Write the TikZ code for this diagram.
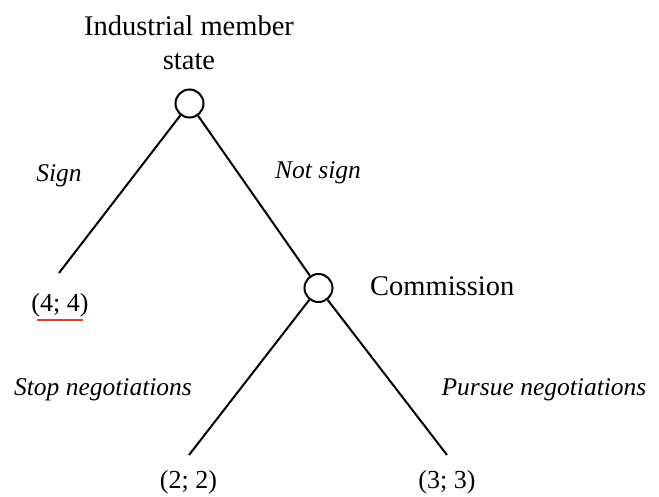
\documentclass[tikz,border=0pt]{standalone}
\usepackage{fontspec}
\setmainfont{Liberation Serif}
\begin{document}
\begin{tikzpicture}[x=1pt,y=-1pt,
  decision/.style={circle,draw,line width=2pt,minimum size=28pt,inner sep=0pt},
  branch/.style={line width=2pt},
  player/.style={anchor=base,font=\fontsize{28.5}{34}\selectfont,inner sep=0pt,align=center},
  payoff/.style={anchor=base,font=\fontsize{26}{30}\selectfont,inner sep=0pt},
  move/.style={anchor=base,font=\fontsize{25.5}{30}\selectfont\itshape,inner sep=0pt}]
\useasboundingbox (0,0) rectangle (659,497);

% decision nodes
\node[decision] (ims) at (189.5,103.5) {};
\node[decision] (com) at (318.5,288) {};

% branch end points
\coordinate (endsign) at (59,273);
\coordinate (endstop) at (189,455);
\coordinate (endpursue) at (447,455);

% branches
\draw[branch] (ims) -- (endsign);
\draw[branch] (ims) -- (com);
\draw[branch] (com) -- (endstop);
\draw[branch] (com) -- (endpursue);

% players
\node[player] (imslabel) at (189,36) {Industrial member};
\node[player] (imslabel2) at (189,70) {state};
\node[player,anchor=base west] (comlabel) at (370,296) {Commission};

% moves
\node[move] (sign) at (59,182) {Sign};
\node[move] (notsign) at (318,179) {Not sign};
\node[move] (stop) at (103,395) {Stop negotiations};
\node[move] (pursue) at (544,395) {Pursue negotiations};

% payoffs
\node[payoff] (pay44) at (60,312) {(4; 4)};
\node[payoff] (pay22) at (188.5,488) {(2; 2)};
\node[payoff] (pay33) at (447,488) {(3; 3)};

% equilibrium mark
\draw[line width=2.2pt,color={rgb,255:red,235;green,60;blue,40}]
  ([xshift=-23pt,yshift=-8pt]pay44.base) -- ([xshift=23pt,yshift=-8pt]pay44.base);
\end{tikzpicture}
\end{document}
